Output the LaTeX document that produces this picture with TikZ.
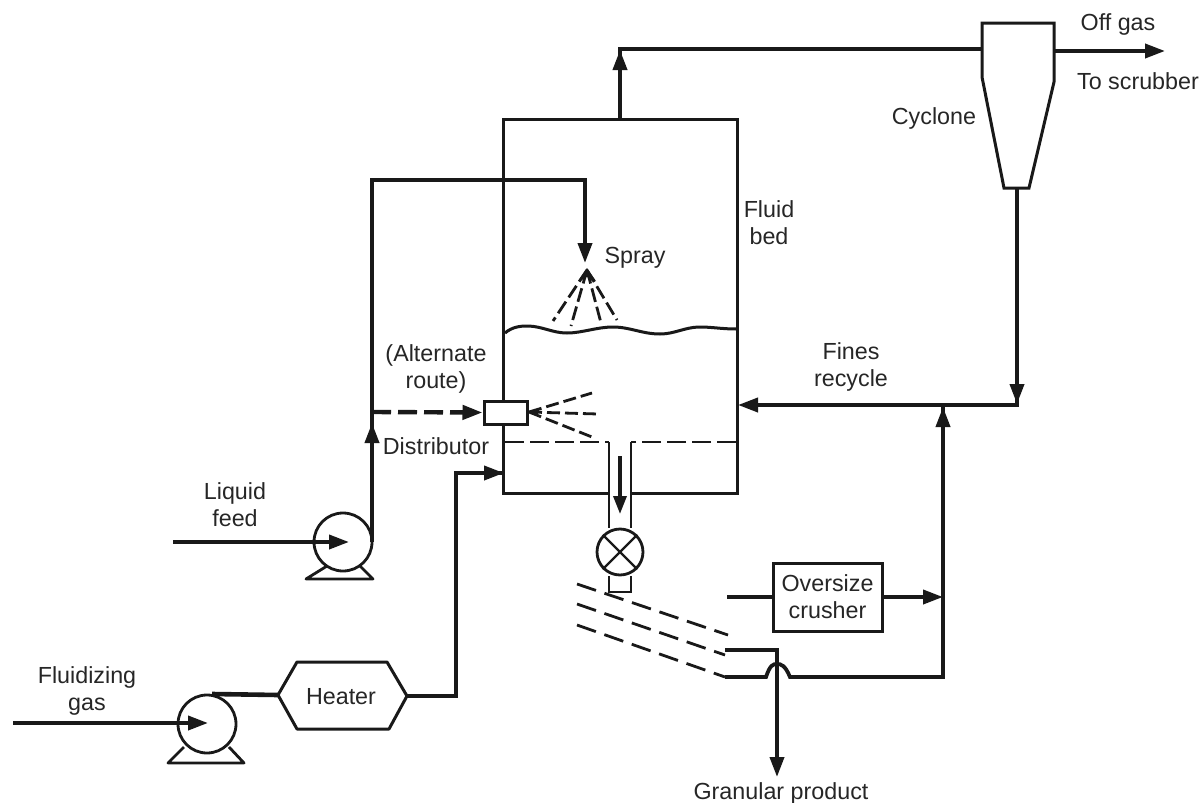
\documentclass[tikz,border=0pt]{standalone}
\usepackage{fontspec}
\setmainfont{Liberation Sans}
\usetikzlibrary{arrows.meta}
\tikzset{
  x=1pt,y=-1pt,
  pipe/.style={line width=3.8pt,line join=miter,black!90},
  thin pipe/.style={line width=2.8pt,black!90},
  arr/.style={-{Triangle[length=20pt,width=14pt]}},
  vesselbox/.style={minimum width=233pt,minimum height=373pt,inner sep=0pt},
  wall/.style={line width=3pt,black!90,line join=miter},
  rbox/.style={draw=black!90,line width=3pt,fill=white,inner sep=0pt,align=center},
  pumpc/.style={circle,draw=black!90,line width=2.8pt,minimum size=58pt,inner sep=0pt},
  valvec/.style={circle,draw=black!90,line width=2.8pt,minimum size=46pt,inner sep=0pt},
  lbl/.style={font=\fontsize{23.3}{27}\selectfont,align=center,inner sep=0pt,text=black!85},
  bed/.style={line width=2.8pt,black!90,dash pattern=on 19pt off 6pt},
  chute/.style={line width=2.8pt,black!90,dash pattern=on 20pt off 9pt},
  spraydash/.style={line width=2.8pt,black!90,dash pattern=on 14pt off 5pt},
}
\begin{document}
\begin{tikzpicture}
\useasboundingbox (0,0) rectangle (1202,803);
% vessel
\node[vesselbox] (vessel) at (620.5,306.5) {};
\coordinate (pL) at (609,442);\coordinate (pR) at (631,442);
\draw[wall] (pL |- vessel.south) -- (vessel.south west) -- (vessel.north west) -- (vessel.north east) -- (vessel.south east) -- (pR |- vessel.south);
% cyclone
\coordinate (cA) at (982,23);\coordinate (cB) at (1054,23);\coordinate (cC) at (1054,82);
\coordinate (cD) at (1029,188);\coordinate (cE) at (1004,188);\coordinate (cF) at (982,77);
\draw[wall] (cA) -- (cB) -- (cC) -- (cD) -- (cE) -- (cF) -- cycle;
% overhead
\coordinate (vtop) at (620,120);\coordinate (vup) at (620,49);\coordinate (cin) at (982,49);
\coordinate (vtip) at (620,50);
\draw[pipe] (vtop) -- (vup) -- (cin);
\draw[pipe,arr] (vtop) -- (vtip);
% off gas
\coordinate (cout) at (1054,51);\coordinate (offend) at (1165,51);
\draw[pipe,arr] (cout) -- (offend);
% cyclone underflow and recycle
\coordinate (cbot) at (1017,188);\coordinate (cj) at (1017,405);\coordinate (cjtip) at (1017,404);
\coordinate (rj) at (943,405);\coordinate (vin) at (738,405);
\draw[pipe] (cbot) -- (cj) -- (rj);
\draw[pipe,arr] (cbot) -- (cjtip);
\draw[pipe,arr] (rj) -- (vin);
% bed surface
\coordinate (w0) at (505,333);\coordinate (w6) at (736,329);
\draw[line width=3pt,black!90] (w0) .. controls (512,327) and (520,326) .. (527,326)
  .. controls (542,326) and (552,333) .. (567,333)
  .. controls (582,333) and (597,327) .. (613,327)
  .. controls (630,327) and (642,334) .. (660,334)
  .. controls (675,334) and (685,327) .. (700,327)
  .. controls (712,327) and (722,329) .. (w6);
% distributor plate and pipe
\coordinate (dL) at (505,442);\coordinate (dR) at (736,442);
\draw[bed] (dL) -- (pL);
\draw[bed] (dR) -- (pR);
% valve
\node[valvec] (valve) at (620,552) {};
\draw[line width=2.4pt,black!90] (valve.north west) -- (valve.south east) (valve.north east) -- (valve.south west);
\draw[thin pipe] (pL) -- (pL |- valve.north) (pR) -- (pR |- valve.north);
\coordinate (vbL) at (609,592);\coordinate (vbR) at (631,592);
\draw[thin pipe] (vbL |- valve.south) -- (vbL) -- (vbR) -- (vbR |- valve.south);
\coordinate (dpa) at (620,456);\coordinate (dpb) at (620,514);
\draw[line width=3.4pt,black!90,-{Triangle[length=18pt,width=13pt]}] (dpa) -- (dpb);
% liquid feed
\node[pumpc] (pump1) at (343,542) {};
\coordinate (b1L) at (306,579);\coordinate (b1R) at (373,579);
\draw[line width=2.8pt,black!90,line join=round] (327,566) -- (b1L) -- (b1R) -- (360,566);
\coordinate (lf) at (173,542);\coordinate (lfend) at (349,542);
\draw[pipe,arr] (lf) -- (lfend);
\coordinate (l1) at (372,542);\coordinate (l2) at (372,180);\coordinate (l3) at (585,180);\coordinate (l4) at (585,263);
\draw[pipe,arr] (l1) -- (l2) -- (l3) -- (l4);
\coordinate (upb) at (372,470);\coordinate (upt) at (372,423);
\draw[pipe,arr] (upb) -- (upt);
% spray
\coordinate (sp) at (587,270);
\coordinate (s1) at (553,321);\coordinate (s2) at (571,326);\coordinate (s3) at (601,323);\coordinate (s4) at (617,320);
\draw[spraydash] (sp) -- (s1) (sp) -- (s2) (sp) -- (s3) (sp) -- (s4);
\fill[black!90] (587,268) -- (578,281) -- (587,277) -- (596,281) -- cycle;
% distributor
\node[rbox,minimum width=43pt,minimum height=23pt] (dist) at (505.5,412.5) {};
\coordinate (ar) at (372,412);
\draw[line width=4.4pt,black!90,dash pattern=on 19pt off 7pt,arr] (ar) -- (dist.west);
\coordinate (n0) at (529,412);\coordinate (n1) at (592,393);\coordinate (n2) at (598,414);\coordinate (n3) at (592,437);
\draw[line width=2.8pt,black!90,dash pattern=on 13pt off 5pt] (n0) -- (n1) (n0) -- (n2) (n0) -- (n3);
% fluidizing gas
\node[pumpc] (pump2) at (207,724) {};
\coordinate (b2L) at (168,763);\coordinate (b2R) at (244,763);
\draw[line width=2.8pt,black!90,line join=round] (184,747) -- (b2L) -- (b2R) -- (229,747);
\coordinate (fg) at (13,723);\coordinate (fgend) at (208,723);
\draw[pipe,arr] (fg) -- (fgend);
% heater
\node[lbl] (heatertxt) at (341,697) {Heater};
\coordinate (h1) at (278,695);\coordinate (h2) at (297,662);\coordinate (h3) at (387,662);
\coordinate (h4) at (407,696);\coordinate (h5) at (389,729);\coordinate (h6) at (297,729);
\draw[wall,line join=round] (h1) -- (h2) -- (h3) -- (h4) -- (h5) -- (h6) -- cycle;
\coordinate (pd) at (212,694);
\draw[pipe,line width=4.6pt] (pd) -- (h1);
\coordinate (g1) at (456,696);\coordinate (g2) at (456,473);\coordinate (g3) at (504,473);
\draw[pipe] (h4) -- (g1) -- (g2) -- (g3);
\draw[pipe,arr] (g2) -- (g3);
% crusher
\node[rbox,lbl,draw=black!90,line width=3pt,minimum width=109pt,minimum height=68pt] (crusher) at (827.5,597) {Oversize\\crusher};
\coordinate (cr0) at (727,597);\coordinate (cr1) at (943,597);
\draw[pipe] (cr0) -- (crusher.west);
\draw[pipe,arr] (crusher.east) -- (cr1);
% screens
\coordinate (sa1) at (577,584);\coordinate (sa2) at (728,635);
\coordinate (sb1) at (577,604);\coordinate (sb2) at (725,655);
\coordinate (sc1) at (577,625);\coordinate (sc2) at (725,677);
\draw[chute] (sa1) -- (sa2);
\draw[chute] (sb1) -- (sb2);
\draw[chute] (sc1) -- (sc2);
% product
\coordinate (p1) at (725,650);\coordinate (p2) at (777,650);\coordinate (p3) at (777,777);
\draw[pipe,arr] (p1) -- (p2) -- (p3);
% oversize return
\coordinate (r0) at (725,677);\coordinate (r1) at (766,677);\coordinate (r2) at (790,677);\coordinate (r3) at (943,677);
\draw[pipe] (r0) -- (r1) .. controls (770,665) and (773,664) .. (777,664) .. controls (781,664) and (785,665) .. (r2) -- (r3) -- (rj);
\coordinate (rtip) at (943,407);\coordinate (rb) at (943,450);
\draw[pipe,arr] (rb) -- (rtip);
% labels
\node[lbl] (tOff) at (1118,24) {Off gas};
\node[lbl] (tTo) at (1138,81) {To scrubber};
\node[lbl] (tCyc) at (934,118) {Cyclone};
\node[lbl] (tFluid) at (769,223) {Fluid\\bed};
\node[lbl] (tSpray) at (635,258) {Spray};
\node[lbl] (tAlt) at (436,369) {(Alternate\\route)};
\node[lbl] (tDist) at (436,446) {Distributor};
\node[lbl] (tFines) at (851,367) {Fines\\recycle};
\node[lbl] (tLiq) at (235,505) {Liquid\\feed};
\node[lbl] (tFlu) at (87,691) {Fluidizing\\gas};
\node[lbl] (tGran) at (781,793) {Granular product};
\end{tikzpicture}
\end{document}
